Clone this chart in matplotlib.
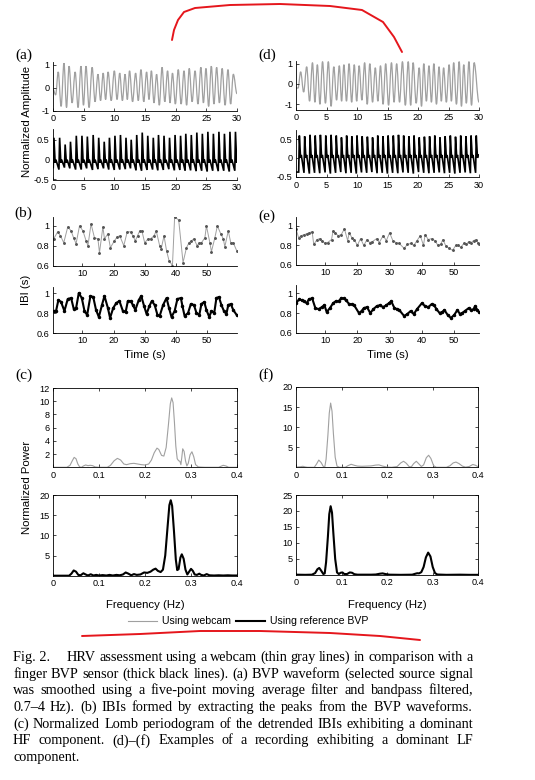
import matplotlib
matplotlib.use("Agg")
import matplotlib.pyplot as plt
from matplotlib.path import Path
from matplotlib.patches import PathPatch
from matplotlib.lines import Line2D

W, H = 535, 780
GRAY = "#a0a0a0"
SANS = "Liberation Sans"
SERIF = "Liberation Serif"

# ---- (a) BVP waveforms, HF example ----
a_web_peak_t = [0.85, 1.79, 2.62, 3.61, 4.56, 5.38, 6.38, 7.33, 8.18, 8.98, 10.0, 10.88, 11.75,
                12.48, 13.47, 14.34, 15.26, 16.04, 16.89, 17.78, 18.68, 19.48, 20.42, 21.36, 22.21,
                23.16, 24.11, 24.94, 25.81, 26.68, 27.58, 28.53, 29.4]
a_web_peak = [0.7, 1.08, 0.95, 0.7, 0.95, 0.95, 0.9, 0.6, 0.65, 0.7, 0.75, 0.65, 0.6, 0.75, 0.65,
              0.8, 0.7, 0.75, 0.6, 0.9, 0.75, 0.65, 0.8, 0.75, 0.85, 0.75, 0.9, 0.85, 0.95, 0.9,
              0.85, 0.8, 0.6]
a_web_trough = [-0.3, -0.8, -0.85, -0.65, -0.85, -0.75, -0.85, -0.6, -0.55, -0.5, -0.55, -0.5,
                -0.55, -0.5, -0.6, -0.55, -0.6, -0.5, -0.65, -0.75, -0.6, -0.65, -0.7, -0.7,
                -0.75, -0.6, -0.7, -0.65, -0.8, -0.7, -0.65, -0.75, -0.7]
a_web_ends = [-0.05, -0.25]

a_ref_peak_t = [0.15, 1.08, 1.98, 2.85, 3.8, 4.72, 5.6, 6.55, 7.45, 8.35, 9.2, 10.1, 11.0, 11.9,
                12.75, 13.65, 14.55, 15.45, 16.35, 17.2, 18.1, 19.0, 19.9, 20.8, 21.65, 22.55,
                23.45, 24.35, 25.25, 26.15, 27.05, 27.95, 28.85, 29.75]
a_ref_peak = [0.55, 0.55, 0.38, 0.45, 0.6, 0.6, 0.58, 0.62, 0.55, 0.45, 0.55, 0.6, 0.62, 0.55,
              0.5, 0.62, 0.68, 0.6, 0.55, 0.62, 0.6, 0.55, 0.62, 0.6, 0.65, 0.62, 0.68, 0.65,
              0.7, 0.65, 0.7, 0.65, 0.7, 0.7]
a_ref_trough = [-0.2, -0.25, -0.2, -0.22, -0.25, -0.25, -0.22, -0.26, -0.24, -0.22, -0.25, -0.26,
                -0.25, -0.24, -0.22, -0.27, -0.28, -0.26, -0.25, -0.27, -0.26, -0.24, -0.27,
                -0.26, -0.28, -0.27, -0.29, -0.28, -0.3, -0.28, -0.29, -0.28, -0.3, -0.28]
a_ref_notch = [-0.08, 0.0]

# ---- (d) BVP waveforms, LF example ----
d_web_peak_t = [0.76, 1.75, 2.7, 3.5, 4.35, 5.3, 6.2, 7.1, 7.85, 8.7, 9.55, 10.35, 11.25, 12.1,
                13.0, 13.85, 14.7, 15.65, 16.5, 17.45, 18.4, 19.2, 20.2, 20.95, 21.8, 22.6,
                23.45, 24.2, 25.1, 25.85, 26.75, 27.5, 28.35, 29.2]
d_web_peak = [0.6, 0.85, 1.05, 0.95, 1.1, 1.1, 0.85, 0.9, 0.95, 1.0, 0.95, 0.9, 1.05, 1.0, 0.8,
              0.9, 1.0, 1.05, 1.0, 1.1, 1.1, 1.05, 0.8, 1.0, 0.9, 1.0, 0.85, 0.8, 0.95, 1.05,
              1.1, 0.95, 1.1, 1.05]
d_web_trough = [-0.2, -0.4, -0.85, -0.9, -1.0, -0.95, -1.1, -0.8, -0.85, -0.85, -0.9, -0.85,
                -0.8, -1.0, -0.9, -0.85, -1.0, -1.05, -0.9, -0.9, -1.05, -1.05, -0.95, -1.1,
                -0.85, -0.9, -1.0, -0.85, -0.9, -0.85, -1.0, -1.1, -0.95, -1.05]
d_web_ends = [-0.2, -0.9]

d_ref_peak_t = [0.55, 1.42, 2.3, 3.15, 4.0, 4.88, 5.75, 6.6, 7.45, 8.3, 9.15, 10.0, 10.85, 11.7,
                12.55, 13.4, 14.25, 15.1, 15.95, 16.8, 17.65, 18.5, 19.35, 20.2, 21.05, 21.9,
                22.75, 23.6, 24.45, 25.3, 26.15, 27.0, 27.85, 28.7, 29.55]
d_ref_peak = [0.6, 0.58, 0.62, 0.6, 0.62, 0.6, 0.62, 0.6, 0.55, 0.6, 0.58, 0.6, 0.58, 0.57, 0.55,
              0.6, 0.58, 0.6, 0.6, 0.62, 0.6, 0.58, 0.6, 0.55, 0.57, 0.58, 0.6, 0.55, 0.58, 0.6,
              0.57, 0.6, 0.58, 0.6, 0.6]
d_ref_trough = [-0.38, -0.4, -0.42, -0.4, -0.41, -0.39, -0.42, -0.4, -0.38, -0.41, -0.4, -0.42,
                -0.39, -0.4, -0.38, -0.41, -0.4, -0.42, -0.4, -0.41, -0.39, -0.4, -0.42, -0.38,
                -0.4, -0.41, -0.4, -0.39, -0.41, -0.4, -0.42, -0.4, -0.39, -0.41, -0.4]
d_ref_notch = [0.0, 0.08]

# ---- (b) IBIs, HF example ----
b_web_t = [0.83, 2.1, 3.0, 4.05, 5.33, 6.4, 7.2, 8.0, 9.1, 10.2, 11.2, 11.8, 12.8, 13.9, 15.0,
           15.5, 16.6, 17.1, 18.2, 19.0, 20.3, 21.2, 22.0, 23.3, 24.4, 25.5, 26.2, 27.0, 27.7,
           28.4, 29.1, 30.0, 31.1, 31.9, 33.0, 33.7, 34.8, 35.3, 36.2, 37.0, 37.8, 38.9, 39.6,
           40.9, 42.3, 43.4, 44.2, 45.0, 45.8, 46.8, 47.5, 48.2, 49.3, 49.8, 50.9, 51.4, 52.5,
           53.3, 54.4, 55.2, 55.7, 56.8, 57.6, 58.4, 59.5]
b_web_ibi = [0.87, 0.94, 0.9, 0.83, 0.99, 0.95, 0.88, 0.82, 1.0, 0.95, 0.85, 0.8, 1.02, 0.88,
             0.87, 0.73, 0.99, 0.87, 0.92, 0.78, 0.85, 0.89, 0.9, 0.8, 0.94, 0.94, 0.9, 0.85,
             0.9, 0.95, 0.95, 0.83, 0.87, 0.87, 0.9, 0.95, 0.8, 0.77, 0.9, 0.75, 0.65, 0.6,
             1.09, 1.06, 0.63, 0.78, 0.83, 0.85, 0.87, 0.8, 0.83, 0.83, 0.88, 1.0, 0.83, 0.74,
             0.88, 1.0, 0.92, 0.87, 0.79, 0.95, 0.83, 0.83, 0.75]
b_ref_t = [0.83, 1.58, 2.33, 3.19, 4.26, 5.33, 6.4, 7.26, 8.01, 8.87, 9.83, 10.7, 11.55, 12.6,
           13.5, 14.4, 15.3, 16.3, 17.1, 18.2, 18.9, 19.9, 20.9, 21.9, 23.0, 23.9, 24.6, 25.5,
           26.2, 27.0, 28.1, 28.9, 29.8, 30.6, 31.5, 32.3, 33.2, 34.1, 34.8, 35.9, 37.0, 37.8,
           38.6, 39.6, 40.5, 41.6, 42.1, 42.8, 43.9, 44.8, 45.8, 46.6, 47.5, 48.2, 49.1, 49.8,
           50.7, 51.4, 52.3, 53.0, 53.8, 54.6, 55.4, 56.2, 56.8, 57.6, 58.4, 59.5]
b_ref_ibi = [0.82, 0.82, 0.93, 0.91, 0.82, 0.94, 0.95, 0.84, 0.85, 1.0, 0.95, 0.82, 0.78, 0.97,
             0.96, 0.83, 0.76, 0.88, 0.97, 0.85, 0.75, 0.85, 0.9, 0.92, 0.82, 0.81, 0.92, 0.92,
             0.88, 0.83, 0.93, 0.97, 0.87, 0.79, 0.87, 0.92, 0.88, 0.78, 0.77, 0.88, 0.95, 0.85,
             0.76, 0.82, 0.94, 0.95, 0.87, 0.77, 0.8, 0.89, 0.88, 0.8, 0.78, 0.89, 0.91, 0.83,
             0.76, 0.82, 0.8, 0.95, 0.96, 0.88, 0.82, 0.79, 0.88, 0.89, 0.83, 0.78]

# ---- (e) IBIs, LF example ----
e_web_t = [1.0, 1.8, 2.6, 3.5, 4.3, 5.1, 6.0, 6.5, 7.5, 8.3, 9.1, 10.0, 10.8, 12.0, 12.5, 13.2,
           14.0, 15.0, 16.0, 17.0, 17.5, 18.3, 19.1, 20.0, 21.0, 22.0, 23.0, 23.8, 24.7, 26.0,
           26.8, 28.0, 29.0, 30.0, 31.0, 32.0, 33.0, 34.5, 35.5, 36.5, 37.5, 38.5, 39.5, 40.5,
           41.0, 42.0, 43.0, 44.0, 45.0, 45.8, 46.5, 47.5, 48.5, 49.5, 50.5, 51.3, 52.0, 53.0,
           53.8, 54.5, 55.3, 56.0, 56.8, 57.3, 57.7]
e_web_ibi = [0.97, 0.88, 0.9, 0.91, 0.92, 0.93, 0.94, 0.81, 0.86, 0.87, 0.85, 0.82, 0.83, 0.86,
             0.95, 0.93, 0.9, 0.91, 0.97, 0.85, 0.93, 0.88, 0.86, 0.8, 0.87, 0.8, 0.86, 0.83,
             0.84, 0.87, 0.83, 0.9, 0.85, 0.93, 0.85, 0.83, 0.82, 0.77, 0.81, 0.82, 0.8, 0.85,
             0.9, 0.8, 0.91, 0.86, 0.87, 0.85, 0.8, 0.81, 0.86, 0.79, 0.77, 0.75, 0.8, 0.8, 0.78,
             0.82, 0.81, 0.84, 0.83, 0.85, 0.86, 0.83, 0.81]
e_ref_t = [1.0, 2.0, 2.8, 3.5, 4.3, 5.0, 6.0, 7.0, 8.0, 9.0, 9.8, 10.5, 11.5, 12.5, 13.3, 14.2,
           15.0, 15.8, 16.5, 17.5, 18.3, 19.0, 20.5, 21.3, 22.0, 23.0, 24.0, 25.0, 26.0, 27.0,
           28.0, 29.0, 29.8, 30.5, 31.5, 32.3, 33.0, 34.5, 35.5, 36.5, 37.5, 38.5, 40.0, 41.0,
           42.0, 43.0, 43.8, 44.5, 45.5, 46.3, 47.0, 48.0, 49.0, 50.0, 51.0, 51.8, 52.5, 53.3,
           54.5, 55.3, 56.0, 56.5, 57.2, 57.7]
e_ref_ibi = [0.9, 0.94, 0.93, 0.92, 0.9, 0.94, 0.95, 0.85, 0.84, 0.86, 0.88, 0.81, 0.85, 0.9,
             0.92, 0.92, 0.95, 0.95, 0.93, 0.89, 0.89, 0.88, 0.8, 0.82, 0.85, 0.86, 0.8, 0.84,
             0.87, 0.88, 0.86, 0.88, 0.9, 0.92, 0.85, 0.84, 0.83, 0.77, 0.79, 0.82, 0.79, 0.84,
             0.9, 0.87, 0.86, 0.89, 0.88, 0.84, 0.8, 0.81, 0.83, 0.78, 0.75, 0.78, 0.83, 0.79,
             0.8, 0.82, 0.85, 0.83, 0.84, 0.87, 0.83, 0.81]

# ---- (c) Lomb periodograms, HF example ----
c_web_f = [0, 0.03, 0.037, 0.042, 0.046, 0.05, 0.054, 0.058, 0.062, 0.066, 0.071, 0.076, 0.081,
           0.086, 0.092, 0.1, 0.118, 0.125, 0.133, 0.14, 0.147, 0.154, 0.16, 0.168, 0.176, 0.184,
           0.192, 0.2, 0.208, 0.214, 0.22, 0.226, 0.23, 0.236, 0.241, 0.246, 0.251, 0.255, 0.258,
           0.261, 0.264, 0.267, 0.27, 0.273, 0.276, 0.278, 0.28, 0.282, 0.285, 0.288, 0.291,
           0.294, 0.298, 0.302, 0.306, 0.31, 0.316, 0.33, 0.36, 0.365, 0.37, 0.376, 0.382, 0.4]
c_web_p = [0, 0, 0.3, 1.0, 1.5, 1.3, 0.5, 0.05, 0, 0.2, 0.35, 0.25, 0.3, 0.25, 0.05, 0, 0, 0.3,
           1.0, 1.35, 1.1, 0.5, 0.4, 0.55, 0.6, 0.5, 0.4, 0.35, 0.5, 1.1, 2.2, 2.9, 2.7, 1.8, 1.7,
           3.0, 6.5, 9.6, 10.5, 9.8, 6.8, 3.2, 1.3, 1.0, 0.9, 0.4, 1.5, 2.8, 2.4, 1.0, 0.2, 0.6,
           1.9, 2.35, 1.6, 0.4, 0.05, 0, 0, 0.15, 0.3, 0.2, 0, 0]
c_ref_f = [0, 0.035, 0.04, 0.045, 0.05, 0.055, 0.06, 0.066, 0.071, 0.076, 0.082, 0.088, 0.094,
           0.1, 0.108, 0.116, 0.123, 0.13, 0.138, 0.145, 0.152, 0.158, 0.164, 0.17, 0.176, 0.182,
           0.19, 0.198, 0.205, 0.212, 0.218, 0.223, 0.228, 0.234, 0.239, 0.244, 0.249, 0.253,
           0.256, 0.259, 0.263, 0.267, 0.27, 0.273, 0.277, 0.28, 0.284, 0.288, 0.292, 0.296, 0.3,
           0.304, 0.308, 0.313, 0.318, 0.322, 0.328, 0.334, 0.34, 0.35, 0.36, 0.37, 0.38, 0.39,
           0.4]
c_ref_p = [0, 0, 0.5, 1.3, 1.0, 0.2, 0.1, 0.6, 0.3, 0.05, 0.35, 0.05, 0.2, 0.05, 0.15, 0.05, 0.2,
           0.05, 0.2, 0.1, 0.3, 0.8, 0.5, 0.1, 0.4, 0.2, 0.3, 0.8, 0.7, 1.0, 1.5, 1.75, 1.2, 0.9,
           1.5, 5, 12, 17.5, 18.7, 17.3, 11, 4, 1.4, 1.6, 4.5, 5.3, 4.2, 1.5, 0.3, 1.0, 1.7, 1.2,
           0.3, 0.2, 0.5, 0.2, 0.05, 0.4, 0.1, 0.05, 0.1, 0.05, 0.1, 0.05, 0.05]

# ---- (f) Lomb periodograms, LF example ----
f_web_f = [0, 0.01, 0.015, 0.02, 0.025, 0.04, 0.045, 0.05, 0.055, 0.06, 0.063, 0.066, 0.07,
           0.073, 0.076, 0.079, 0.082, 0.086, 0.09, 0.095, 0.108, 0.114, 0.121, 0.128, 0.135,
           0.145, 0.155, 0.165, 0.175, 0.182, 0.19, 0.2, 0.21, 0.222, 0.23, 0.236, 0.242, 0.248,
           0.253, 0.258, 0.264, 0.27, 0.275, 0.28, 0.286, 0.291, 0.296, 0.302, 0.308, 0.33, 0.338,
           0.345, 0.351, 0.358, 0.365, 0.372, 0.38, 0.388, 0.394, 0.4]
f_web_p = [0.05, 0.15, 0.25, 0.1, 0, 0, 0.8, 1.8, 1.2, 0.2, 0, 2, 8, 13.5, 16, 14, 8.5, 2.5, 0.3,
           0, 0, 0.4, 0.75, 0.5, 0.3, 0.25, 0.3, 0.35, 0.55, 0.6, 0.3, 0.05, 0, 0.2, 1.1, 1.5,
           1.0, 0.2, 0.1, 0.9, 1.5, 0.8, 0.2, 0.6, 2.4, 3.0, 2.2, 0.4, 0, 0, 0.4, 1.1, 1.3, 0.9,
           0.3, 0.05, 0.2, 0.7, 0.5, 0.1]
f_ref_f = [0, 0.02, 0.035, 0.042, 0.047, 0.051, 0.055, 0.06, 0.063, 0.066, 0.07, 0.073, 0.076,
           0.079, 0.082, 0.086, 0.09, 0.094, 0.098, 0.102, 0.106, 0.112, 0.118, 0.123, 0.128,
           0.135, 0.15, 0.165, 0.175, 0.184, 0.19, 0.196, 0.205, 0.23, 0.255, 0.262, 0.266, 0.27,
           0.275, 0.28, 0.285, 0.29, 0.295, 0.3, 0.305, 0.31, 0.33, 0.36, 0.38, 0.4]
f_ref_p = [0.1, 0.05, 0.1, 0.6, 1.8, 2.2, 1.4, 0.3, 0.5, 4, 12, 19, 21.5, 19.5, 13, 5, 0.8, 0.3,
           0.7, 0.8, 0.3, 0.3, 0.8, 0.7, 0.25, 0.1, 0.1, 0.1, 0.15, 0.4, 0.5, 0.3, 0.1, 0.05, 0.1,
           0.4, 0.55, 0.5, 0.9, 2.5, 5.5, 7.0, 5.8, 2.5, 0.6, 0.15, 0.05, 0.1, 0.05, 0.05]

caption = [
    "finger BVP sensor (thick black lines). (a) BVP waveform (selected source signal",
    "was smoothed using a five-point moving average filter and bandpass filtered,",
    "0.7\u20134 Hz). (b) IBIs formed by extracting the peaks from the BVP waveforms.",
    "(c) Normalized Lomb periodogram of the detrended IBIs exhibiting a dominant",
    "HF component. (d)\u2013(f) Examples of a recording exhibiting a dominant LF",
    "component.",
]
caption_first = "HRV assessment using a webcam (thin gray lines) in comparison with a"

plt.rcParams["font.family"] = [SANS, "DejaVu Sans"]
fig = plt.figure(figsize=(W / 100, H / 100), dpi=100)


def px(x, y):
    return x / W, 1 - y / H


def add_ax(l, t, r, b, box=False):
    ax = fig.add_axes([l / W, 1 - b / H, (r - l) / W, (b - t) / H])
    ax.spines["top"].set_visible(box)
    ax.spines["right"].set_visible(box)
    for s in ax.spines.values():
        s.set_linewidth(0.6)
    ax.tick_params(direction="in", length=2, width=0.5, labelsize=6.6, pad=2.5,
                   top=box, right=box)
    ax.patch.set_alpha(0)
    return ax


def smooth_line(ax, ts, vs, **kw):
    # bezier with flat tangents at each extremum
    verts = [(ts[0], vs[0])]
    codes = [Path.MOVETO]
    for i in range(1, len(ts)):
        d = (ts[i] - ts[i - 1]) * 0.36
        verts += [(ts[i - 1] + d, vs[i - 1]), (ts[i] - d, vs[i]), (ts[i], vs[i])]
        codes += [Path.CURVE4] * 3
    ax.add_patch(PathPatch(Path(verts, codes), fill=False, **kw))


def web_wave(ax, peak_t, peak_v, trough_v, ends):
    ts, vs = [0], [ends[0]]
    prev = None
    for tp, vp, vt in zip(peak_t, peak_v, trough_v):
        tt = tp - 0.42 if prev is None else (prev + tp) / 2
        ts += [tt, tp]
        vs += [vt, vp]
        prev = tp
    ts.append(30)
    vs.append(ends[1])
    smooth_line(ax, ts, vs, edgecolor=GRAY, lw=0.9)


def ref_wave(ax, peak_t, peak_v, trough_v, notch):
    ts, vs = [0], [trough_v[0]]
    for tp, vp, vt in zip(peak_t, peak_v, trough_v):
        ts += [tp - 0.11, tp, tp + 0.2, tp + 0.32]
        vs += [vt, vp, notch[0], notch[1]]
    ax.plot(ts, vs, color="black", lw=1.2, solid_joinstyle="miter")


def wave_axes(ax_top, ax_bot, ylim_top, ylim_bot):
    for ax in (ax_top, ax_bot):
        ax.set_xlim(0, 30)
        ax.set_xticks(range(0, 31, 5))
    ax_top.set_ylim(*ylim_top)
    ax_top.set_yticks([-1, 0, 1])
    ax_top.set_yticklabels(["-1", "0", "1"])
    ax_bot.set_ylim(*ylim_bot)
    ax_bot.set_yticks([-0.5, 0, 0.5])
    ax_bot.set_yticklabels(["-0.5", "0", "0.5"])


# BVP
ax = add_ax(53, 62, 237, 111)
ax2 = add_ax(53, 129, 237, 179.5)
web_wave(ax, a_web_peak_t, a_web_peak, a_web_trough, a_web_ends)
ref_wave(ax2, a_ref_peak_t, a_ref_peak, a_ref_trough, a_ref_notch)
wave_axes(ax, ax2, (-1, 1.13), (-0.5, 0.77))

ax = add_ax(296, 61, 479, 110)
ax2 = add_ax(296, 130, 479, 177.3)
web_wave(ax, d_web_peak_t, d_web_peak, d_web_trough, d_web_ends)
ref_wave(ax2, d_ref_peak_t, d_ref_peak, d_ref_trough, d_ref_notch)
wave_axes(ax, ax2, (-1.28, 1.13), (-0.52, 0.75))


# IBI
def ibi_axes(ax, t, v, web, xlim, ytop):
    if web:
        ax.plot(t, v, color=GRAY, lw=0.7, marker=".", ms=2.2, mfc="#555555", mec="#555555")
    else:
        ax.plot(t, v, color="black", lw=1.5, marker=".", ms=3, mfc="black", mec="black")
    ax.set_xlim(*xlim)
    ax.set_xticks([10, 20, 30, 40, 50])
    ax.set_ylim(0.6, ytop)
    ax.set_yticks([0.6, 0.8, 1.0])
    ax.set_yticklabels(["0.6", "0.8", "1"])


ibi_axes(add_ax(53, 217, 237, 265.5), b_web_t, b_web_ibi, True, (0.6, 59.6), 1.09)
ibi_axes(add_ax(53, 287.3, 237, 333), b_ref_t, b_ref_ibi, False, (0.6, 59.6), 1.057)
ibi_axes(add_ax(296, 216.7, 479, 265), e_web_t, e_web_ibi, True, (1.0, 57.7), 1.094)
ibi_axes(add_ax(296, 285, 479, 332.7), e_ref_t, e_ref_ibi, False, (1.0, 57.7), 1.085)


# periodograms
def psd_axes(ax, f, p, web, ytop, yticks):
    if web:
        ax.plot(f, p, color=GRAY, lw=0.8)
    else:
        ax.plot(f, p, color="black", lw=1.5)
    ax.set_xlim(0, 0.4)
    ax.set_xticks([0, 0.1, 0.2, 0.3, 0.4])
    ax.set_xticklabels(["0", "0.1", "0.2", "0.3", "0.4"])
    ax.set_ylim(0, ytop)
    ax.set_yticks(yticks)
    ax.set_yticklabels([str(y) for y in yticks])


psd_axes(add_ax(53, 388, 237, 467.3, True), c_web_f, c_web_p, True, 12, [2, 4, 6, 8, 10, 12])
psd_axes(add_ax(53, 495, 237, 575.7, True), c_ref_f, c_ref_p, False, 20, [5, 10, 15, 20])
psd_axes(add_ax(296, 387, 478.3, 467.3, True), f_web_f, f_web_p, True, 20, [5, 10, 15, 20])
psd_axes(add_ax(296, 495, 478.3, 575, True), f_ref_f, f_ref_p, False, 25, [5, 10, 15, 20, 25])

# axis titles
lab = dict(fontsize=8.2, family=SANS, ha="center", va="center")
fig.text(*px(27, 121), "Normalized Amplitude", rotation=90, **lab)
fig.text(*px(26, 290), "IBI (s)", rotation=90, **lab)
fig.text(*px(27, 487), "Normalized Power", rotation=90, **lab)
fig.text(*px(145, 355), "Time (s)", **lab)
fig.text(*px(388, 355), "Time (s)", **lab)
fig.text(*px(145, 605), "Frequency (Hz)", **lab)
fig.text(*px(387, 605), "Frequency (Hz)", **lab)

# panel letters
for s, x, y in [("(a)", 15, 55), ("(b)", 14, 213), ("(c)", 15, 375),
                ("(d)", 258, 55), ("(e)", 258, 216), ("(f)", 258, 375)]:
    fig.text(*px(x, y), s, fontsize=11, family=SERIF, ha="left", va="center")

# legend
fig.add_artist(Line2D([128 / W, 157 / W], [1 - 621 / H] * 2, color=GRAY, lw=0.8))
fig.add_artist(Line2D([236 / W, 265 / W], [1 - 621 / H] * 2, color="black", lw=1.5))
fig.text(*px(162, 621), "Using webcam", fontsize=7.6, family=SANS, va="center")
fig.text(*px(270, 621), "Using reference BVP", fontsize=7.6, family=SANS, va="center")

# caption, justified
renderer = fig.canvas.get_renderer()
CAP = 10.3


def justify(words, x0, x1, y, stretch=True):
    arts = [fig.text(*px(x0, y), w, fontsize=CAP, family=SERIF, va="baseline") for w in words]
    widths = [a.get_window_extent(renderer).width for a in arts]
    if stretch and len(words) > 1:
        gap = (x1 - x0 - sum(widths)) / (len(words) - 1)
    else:
        gap = CAP * 0.25 * 100 / 72
    x = x0
    for a, w in zip(arts, widths):
        a.set_x(x / W)
        x += w + gap


fig.text(*px(13, 661), "Fig. 2.", fontsize=CAP, family=SERIF, va="baseline")
justify(caption_first.split(), 66.7, 473, 661)
for i, line in enumerate(caption):
    justify(line.split(), 13, 473, 661 + 16.67 * (i + 1), stretch=(i < len(caption) - 1))

# red pen marks over the figure
red_top = [(172, 40), (174, 30), (178, 20), (184, 12), (195, 8), (230, 5), (280, 4), (330, 6),
           (362, 10), (383, 22), (394, 37), (402, 52)]
red_bottom = [(82, 636), (140, 634), (200, 631), (260, 631), (330, 633), (380, 636), (420, 640)]
for stroke in (red_top, red_bottom):
    fig.add_artist(Line2D([p[0] / W for p in stroke], [1 - p[1] / H for p in stroke],
                          color="#e5161c", lw=1.4, solid_capstyle="round"))

fig.savefig("out.png", dpi=100)
